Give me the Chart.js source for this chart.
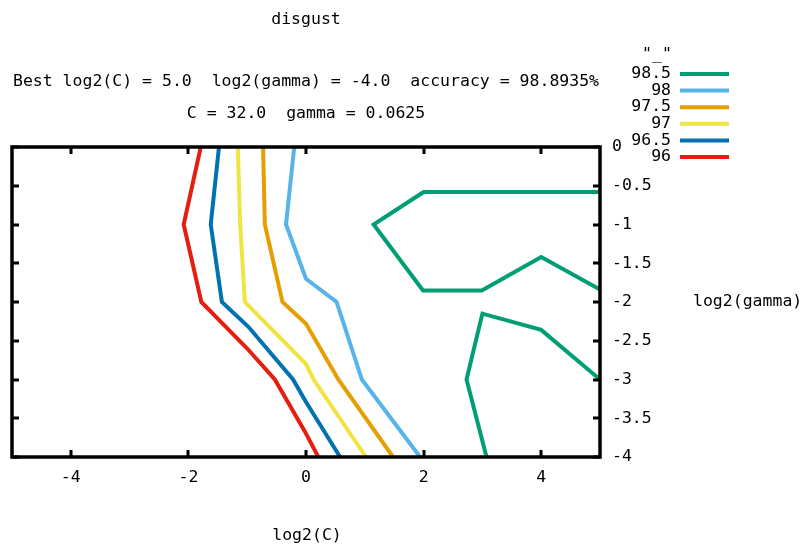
<!DOCTYPE html>
<html>
<head>
<meta charset="utf-8">
<script src="https://cdn.jsdelivr.net/npm/chart.js@4/dist/chart.umd.min.js"></script>
<style>
  html, body { margin: 0; padding: 0; background: #fff; }
  #wrap { width: 803px; height: 546px; }
</style>
</head>
<body>
<div id="wrap"><canvas id="chart" width="803" height="546"></canvas></div>
<script>
// contour levels, in legend order
const levels = ['98.5', '98', '97.5', '97', '96.5', '96'];
const levelColors = ['#009e73', '#56b4e9', '#e69f00', '#f0e442', '#0072b2', '#e51e10'];

// contour paths (log2(C), log2(gamma))
const c985a = [
  { x: 5.0, y: -0.58 }, { x: 2.0, y: -0.58 }, { x: 1.15, y: -1.0 }, { x: 1.99, y: -1.85 },
  { x: 2.99, y: -1.85 }, { x: 4.0, y: -1.42 }, { x: 5.0, y: -1.84 }
];
const c985b = [
  { x: 5.0, y: -3.0 }, { x: 4.0, y: -2.36 }, { x: 3.0, y: -2.15 }, { x: 2.73, y: -3.0 },
  { x: 3.07, y: -4.0 }
];
const c98 = [
  { x: -0.2, y: 0 }, { x: -0.34, y: -1.0 }, { x: 0, y: -1.7 }, { x: 0.52, y: -2.0 },
  { x: 0.95, y: -3.0 }, { x: 1.94, y: -4.0 }
];
const c975 = [
  { x: -0.73, y: 0 }, { x: -0.7, y: -1.0 }, { x: -0.4, y: -2.0 }, { x: 0, y: -2.28 },
  { x: 0.55, y: -3.0 }, { x: 1.48, y: -4.0 }
];
const c97 = [
  { x: -1.16, y: 0 }, { x: -1.12, y: -1.0 }, { x: -1.04, y: -2.0 }, { x: 0, y: -2.8 },
  { x: 0.13, y: -3.0 }, { x: 1.02, y: -4.0 }
];
const c965 = [
  { x: -1.48, y: 0 }, { x: -1.62, y: -1.0 }, { x: -1.43, y: -2.0 }, { x: -0.98, y: -2.32 },
  { x: -0.22, y: -3.0 }, { x: 0, y: -3.29 }, { x: 0.58, y: -4.0 }
];
const c96 = [
  { x: -1.79, y: 0 }, { x: -2.08, y: -1.0 }, { x: -1.78, y: -2.0 }, { x: -1.0, y: -2.6 },
  { x: -0.53, y: -3.0 }, { x: -0.02, y: -3.67 }, { x: 0.21, y: -4.0 }
];

// axis ticks
const xTickValues = [-4, -2, 0, 2, 4];
const yTickValues = [0, -0.5, -1, -1.5, -2, -2.5, -3, -3.5, -4];

const titleText = 'disgust';
const bestLine1 = 'Best log2(C) = 5.0  log2(gamma) = -4.0  accuracy = 98.8935%';
const bestLine2 = 'C = 32.0  gamma = 0.0625';
const keyTitle = '"_"';

const FONT = '16.5px "DejaVu Sans Mono"';

function makeSet(label, data, color, inKey) {
  return {
    label, data, borderColor: color, backgroundColor: color,
    showLine: true, borderWidth: 4, pointRadius: 0, tension: 0,
    borderJoinStyle: 'miter', inKey
  };
}

const datasets = [
  makeSet(levels[0], c985a, levelColors[0], true),
  makeSet(levels[0], c985b, levelColors[0], false),
  makeSet(levels[1], c98, levelColors[1], true),
  makeSet(levels[2], c975, levelColors[2], true),
  makeSet(levels[3], c97, levelColors[3], true),
  makeSet(levels[4], c965, levelColors[4], true),
  makeSet(levels[5], c96, levelColors[5], true)
];

// gnuplot-like frame, inward ticks, titles and key
const gnuplotDecor = {
  id: 'gnuplotDecor',
  afterDraw(chart) {
    const ctx = chart.ctx;
    const a = chart.chartArea;
    const xs = chart.scales.x;
    const ys = chart.scales.y;
    ctx.save();

    // ticks
    ctx.strokeStyle = '#000';
    ctx.lineWidth = 3;
    ctx.beginPath();
    xTickValues.forEach((v) => {
      const px = Math.round(xs.getPixelForValue(v));
      ctx.moveTo(px, a.bottom); ctx.lineTo(px, a.bottom - 7);
      ctx.moveTo(px, a.top); ctx.lineTo(px, a.top + 7);
    });
    yTickValues.forEach((v) => {
      const py = Math.round(ys.getPixelForValue(v));
      ctx.moveTo(a.left, py); ctx.lineTo(a.left + 7, py);
      ctx.moveTo(a.right, py); ctx.lineTo(a.right - 7, py);
    });
    ctx.stroke();

    // border
    ctx.lineWidth = 3.5;
    ctx.strokeRect(a.left, a.top, a.right - a.left, a.bottom - a.top);

    // titles
    ctx.fillStyle = '#000';
    ctx.font = FONT;
    ctx.textBaseline = 'middle';
    ctx.textAlign = 'center';
    const cx = (a.left + a.right) / 2;
    ctx.fillText(titleText, cx, 20);
    ctx.fillText(bestLine1, cx, 82);
    ctx.fillText(bestLine2, cx, 114);
    ctx.fillText('log2(C)', cx + 1, 536);
    ctx.textAlign = 'left';
    ctx.fillText('log2(gamma)', 693, 302);

    // key
    ctx.textAlign = 'center';
    ctx.fillText(keyTitle, 657, 55);
    let row = 0;
    chart.data.datasets.forEach((ds) => {
      if (!ds.inKey) return;
      const y = 74 + row * 16.6;
      ctx.textAlign = 'right';
      ctx.fillStyle = '#000';
      ctx.fillText(ds.label, 671, y);
      ctx.strokeStyle = ds.borderColor;
      ctx.lineWidth = 4;
      ctx.beginPath();
      ctx.moveTo(680, y); ctx.lineTo(729, y);
      ctx.stroke();
      row++;
    });
    ctx.restore();
  }
};

new Chart(document.getElementById('chart'), {
  type: 'scatter',
  data: { datasets },
  options: {
    responsive: false,
    animation: false,
    events: [],
    layout: { padding: { left: 12, top: 147, right: 0, bottom: 0 } },
    plugins: { legend: { display: false }, tooltip: { enabled: false }, title: { display: false } },
    scales: {
      x: {
        type: 'linear', min: -5, max: 5, position: 'bottom',
        grid: { display: false, drawTicks: false },
        border: { display: false },
        afterBuildTicks: (s) => { s.ticks = xTickValues.map((v) => ({ value: v })); },
        afterFit: (s) => { s.height = 89; },
        ticks: { padding: 11, color: '#000', font: { family: 'DejaVu Sans Mono', size: 16.5 }, maxRotation: 0 }
      },
      y: {
        type: 'linear', min: -4, max: 0, position: 'right',
        grid: { display: false, drawTicks: false },
        border: { display: false },
        afterBuildTicks: (s) => { s.ticks = yTickValues.map((v) => ({ value: v })); },
        afterFit: (s) => { s.width = 203; },
        ticks: { padding: 12, color: '#000', font: { family: 'DejaVu Sans Mono', size: 16.5 },
          callback: (v) => String(v) }
      }
    }
  },
  plugins: [gnuplotDecor]
});
</script>
</body>
</html>
